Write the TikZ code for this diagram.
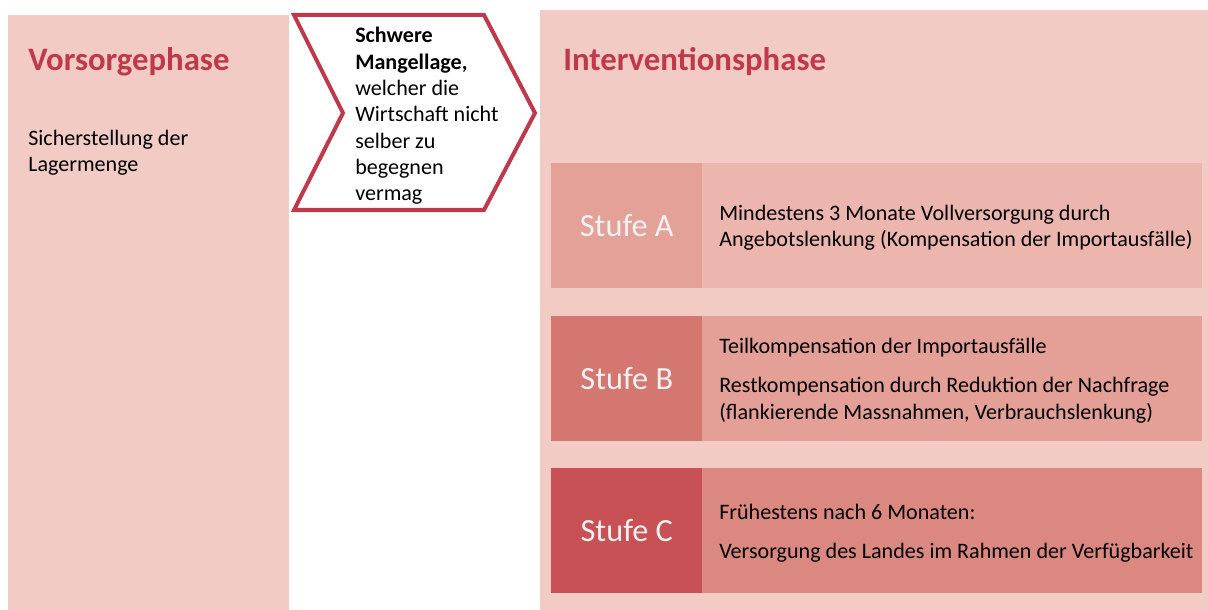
\documentclass[tikz,border=0pt]{standalone}
\usepackage{fontspec}
\setmainfont{Carlito}
\usetikzlibrary{positioning}

\definecolor{panelpink}{HTML}{F2CBC5}
\definecolor{titlered}{HTML}{C0394B}
\definecolor{stufeAdark}{HTML}{E3A198}
\definecolor{stufeAlight}{HTML}{ECB5AE}
\definecolor{stufeBdark}{HTML}{D47771}
\definecolor{stufeBlight}{HTML}{E4A097}
\definecolor{stufeCdark}{HTML}{C85155}
\definecolor{stufeClight}{HTML}{DA8880}

\tikzset{
  panel/.style={fill=panelpink, draw=none, anchor=north west, inner sep=0pt},
  phasetitle/.style={anchor=west, inner sep=0pt, text=titlered,
    font=\fontsize{23.3}{28}\selectfont\bfseries},
  bodytext/.style={anchor=west, inner sep=0pt, align=left,
    font=\fontsize{15.7}{18.7}\selectfont},
  stufelabel/.style={fill=#1, anchor=north west, inner sep=0pt,
    minimum width=151*0.025cm, minimum height=125*0.025cm,
    text=white!95!black, font=\fontsize{23}{27}\selectfont},
  stufetext/.style={fill=#1, anchor=north west, inner sep=0pt,
    minimum width=500*0.025cm, minimum height=125*0.025cm}
}

\begin{document}
\begin{tikzpicture}[x=0.025cm, y=-0.025cm]
  \useasboundingbox (0,0) rectangle (1208,610);

  % the two phases
  \node[panel, minimum width=281*0.025cm, minimum height=595*0.025cm] (vorsorge) at (8,15) {};
  \node[panel, minimum width=668*0.025cm, minimum height=600*0.025cm] (intervention) at (540,10) {};

  \node[phasetitle] (vorsorgetitle) at (28,62) {Vorsorgephase};
  \node[bodytext] (lager) at (28,153) {Sicherstellung der\\Lagermenge};
  \node[phasetitle] (intervtitle) at (563,62) {Interventionsphase};

  % the trigger between them
  \draw[titlered, line width=4pt*0.7114, line join=miter, fill=white]
    (294,15) -- (484,15) -- (535,113) -- (484,210) -- (294,210) -- (343,113) -- cycle;
  \node[bodytext, font=\fontsize{15.7}{18.7}\selectfont] (mangel) at (355,116)
    {\textbf{Schwere}\\\textbf{Mangellage,}\\welcher die\\Wirtschaft nicht\\selber zu\\begegnen\\vermag};

  % the three steps
  \node[stufelabel=stufeAdark] (stufeA) at (551,163) {Stufe A};
  \node[stufetext=stufeAlight] (textA) at (702,163) {};
  \node[bodytext] at ([xshift=17*0.025cm, yshift=-2*0.025cm]textA.west) {Mindestens 3 Monate Vollversorgung durch\\Angebotslenkung (Kompensation der Importausfälle)};

  \node[stufelabel=stufeBdark] (stufeB) at (551,316) {Stufe B};
  \node[stufetext=stufeBlight] (textB) at (702,316) {};
  \node[bodytext] at ([xshift=17*0.025cm, yshift=-2*0.025cm]textB.west) {Teilkompensation der Importausfälle\\[9pt]Restkompensation durch Reduktion der Nachfrage\\(flankierende Massnahmen, Verbrauchslenkung)};

  \node[stufelabel=stufeCdark] (stufeC) at (551,468) {Stufe C};
  \node[stufetext=stufeClight] (textC) at (702,468) {};
  \node[bodytext] at ([xshift=17*0.025cm, yshift=-2*0.025cm]textC.west) {Frühestens nach 6 Monaten:\\[9pt]Versorgung des Landes im Rahmen der Verfügbarkeit};
\end{tikzpicture}
\end{document}
